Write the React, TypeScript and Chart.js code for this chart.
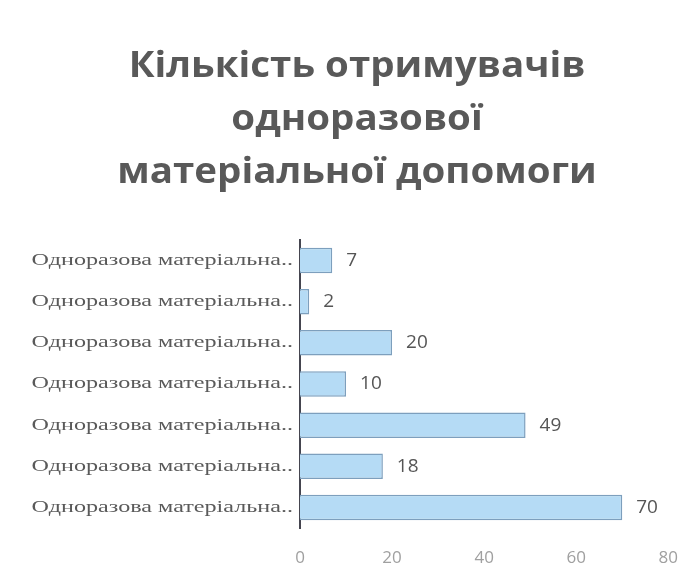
import React, { useEffect, useRef } from "react";
import { Chart, registerables } from "chart.js";

Chart.register(...registerables);

const titleLines = ["Кількість отримувачів", "одноразової", "матеріальної допомоги"];
const categories = [
  "Одноразова матеріальна..",
  "Одноразова матеріальна..",
  "Одноразова матеріальна..",
  "Одноразова матеріальна..",
  "Одноразова матеріальна..",
  "Одноразова матеріальна..",
  "Одноразова матеріальна..",
];
const values = [7, 2, 20, 10, 49, 18, 70];
const xTicks = [0, 20, 40, 60, 80];

const titlePlugin = {
  id: "customTitle",
  afterDraw(chart: any) {
    const ctx = chart.ctx;
    ctx.save();
    ctx.font = 'bold 35px "Open Sans"';
    ctx.fillStyle = "#595959";
    ctx.textAlign = "center";
    ctx.textBaseline = "alphabetic";
    const cx = chart.width / 2 + 8;
    titleLines.forEach((line, i) => {
      ctx.save();
      ctx.translate(cx, 77 + i * 53);
      ctx.scale(1.1, 1);
      ctx.fillText(line, 0, 0);
      ctx.restore();
    });
    ctx.restore();
  },
};

const yLabelPlugin = {
  id: "yLabels",
  afterDraw(chart: any) {
    const ctx = chart.ctx;
    const scale = chart.scales.y;
    ctx.save();
    ctx.font = '17px "Liberation Serif"';
    ctx.fillStyle = "#5a5a5a";
    ctx.textAlign = "right";
    ctx.textBaseline = "middle";
    scale.ticks.forEach((_t: any, i: number) => {
      const y = scale.getPixelForTick(i);
      ctx.save();
      ctx.translate(scale.right - 7, y);
      ctx.scale(1.42, 1);
      ctx.fillText(categories[i], 0, 0);
      ctx.restore();
    });
    ctx.restore();
  },
};

const valueLabelPlugin = {
  id: "valueLabels",
  afterDatasetsDraw(chart: any) {
    const ctx = chart.ctx;
    const meta = chart.getDatasetMeta(0);
    ctx.save();
    ctx.font = '19px "Open Sans"';
    ctx.fillStyle = "#555555";
    ctx.textAlign = "left";
    ctx.textBaseline = "middle";
    meta.data.forEach((bar: any, i: number) => {
      ctx.fillText(String(values[i]), bar.x + 14, bar.y);
    });
    ctx.restore();
  },
};

export default function App() {
  const ref = useRef<HTMLCanvasElement | null>(null);
  useEffect(() => {
    if (!ref.current) return;
    const chart = new Chart(ref.current, {
      type: "bar",
      data: {
        labels: categories,
        datasets: [
          {
            data: values,
            backgroundColor: "#b5dbf5",
            borderColor: "#7d9fbd",
            borderWidth: 1.5,
            barPercentage: 0.62,
            categoryPercentage: 1,
          },
        ],
      },
      options: {
        indexAxis: "y",
        responsive: true,
        maintainAspectRatio: false,
        animation: false,
        layout: { padding: { top: 240, right: 29, bottom: 14, left: 0 } },
        plugins: {
          legend: { display: false },
          tooltip: { enabled: false },
          title: { display: false },
        },
        scales: {
          y: {
            grid: { display: false, drawTicks: false },
            border: { display: true, color: "#45454f", width: 2 },
            ticks: {
              color: "rgba(0,0,0,0)",
              font: { family: "Liberation Serif", size: 17 },
              padding: 7,
            },
            afterFit: (s: any) => {
              s.width = 300;
            },
          },
          x: {
            min: xTicks[0],
            max: xTicks[xTicks.length - 1],
            grid: { display: false, drawTicks: false },
            border: { display: false },
            ticks: {
              stepSize: xTicks[1] - xTicks[0],
              color: "#a0a0a0",
              font: { family: "Open Sans", size: 17 },
              padding: 20,
            },
            afterFit: (s: any) => {
              s.height = 38;
            },
          },
        },
      },
      plugins: [titlePlugin, yLabelPlugin, valueLabelPlugin],
    });
    return () => chart.destroy();
  }, []);
  return (
    <div style={{ position: "absolute", top: 0, left: 0, width: 698, height: 580, background: "#fff" }}>
      <canvas ref={ref} />
    </div>
  );
}
